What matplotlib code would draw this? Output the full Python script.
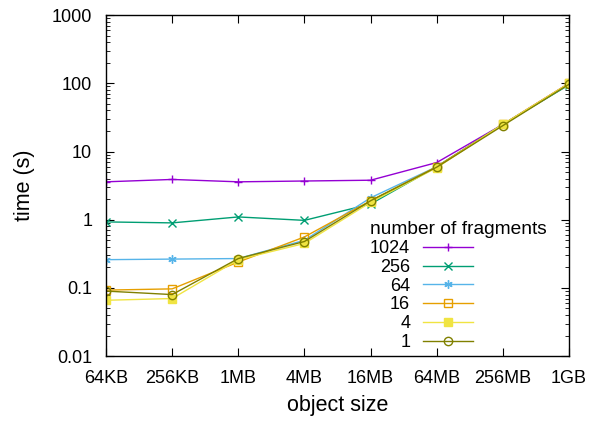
import numpy as np
import matplotlib.pyplot as plt
from matplotlib.ticker import LogLocator, NullFormatter

sizes = ["64KB", "256KB", "1MB", "4MB", "16MB", "64MB", "256MB", "1GB"]

t_1024 = [3.6, 3.9, 3.6, 3.7, 3.8, 6.9, 25, 100]
t_256 = [0.93, 0.90, 1.10, 0.98, 1.70, 6.0, 25, 95]
t_64 = [0.26, 0.265, 0.27, 0.50, 2.10, 6.0, 25, 97]
t_16 = [0.093, 0.097, 0.24, 0.56, 1.90, 6.0, 25, 100]
t_4 = [0.066, 0.070, 0.26, 0.45, 1.80, 5.8, 25, 100]
t_1 = [0.090, 0.080, 0.27, 0.48, 1.90, 5.9, 24, 97]

series = [
    ("1024", t_1024, "#9400d3", "+", "full"),
    ("256", t_256, "#009e73", "x", "full"),
    ("64", t_64, "#56b4e9", (6, 2, 0), "full"),
    ("16", t_16, "#e69f00", "s", "none"),
    ("4", t_4, "#f0e442", "s", "full"),
    ("1", t_1, "#808000", "o", "none"),
]

plt.rcParams["font.family"] = "Liberation Sans"
fig, ax = plt.subplots(figsize=(5.89, 4.21), dpi=100)
fig.subplots_adjust(left=0.18, right=0.966, bottom=0.154, top=0.964)

x = np.arange(len(sizes))
for name, vals, col, mk, fill in series:
    ax.plot(x, vals, color=col, marker=mk, fillstyle=fill, markersize=6,
            markeredgewidth=1, linewidth=1, label=name)

ax.set_yscale("log")
ax.set_ylim(0.01, 1000)
ax.set_xlim(0, len(sizes) - 1)
ax.set_xticks(x)
ax.set_xticklabels(sizes)
ax.yaxis.set_minor_locator(LogLocator(base=10, subs=np.arange(2, 10), numticks=10))
ax.yaxis.set_minor_formatter(NullFormatter())
ax.set_yticks([0.01, 0.1, 1, 10, 100, 1000])
ax.set_yticklabels(["0.01", "0.1", "1", "10", "100", "1000"])

ax.tick_params(which="both", direction="in", top=True, right=True, labelsize=13)
ax.tick_params(axis="x", which="major", length=6, pad=10)
ax.tick_params(axis="y", which="major", length=6, pad=10)
ax.tick_params(which="minor", length=3)
for s in ax.spines.values():
    s.set_linewidth(1)

ax.set_xlabel("object size", fontsize=15.5, labelpad=6)
ax.set_ylabel("time (s)", fontsize=15.5, labelpad=12)

leg = ax.legend(title="number of fragments", loc="lower right",
                bbox_to_anchor=(0.952, 0.015), frameon=False, markerfirst=False,
                fontsize=13, title_fontsize=13.8, handlelength=2.8,
                labelspacing=0.1, handletextpad=0.7, borderpad=0,
                borderaxespad=0)
leg._legend_box.align = "left"

fig.savefig("out.png", dpi=100)
